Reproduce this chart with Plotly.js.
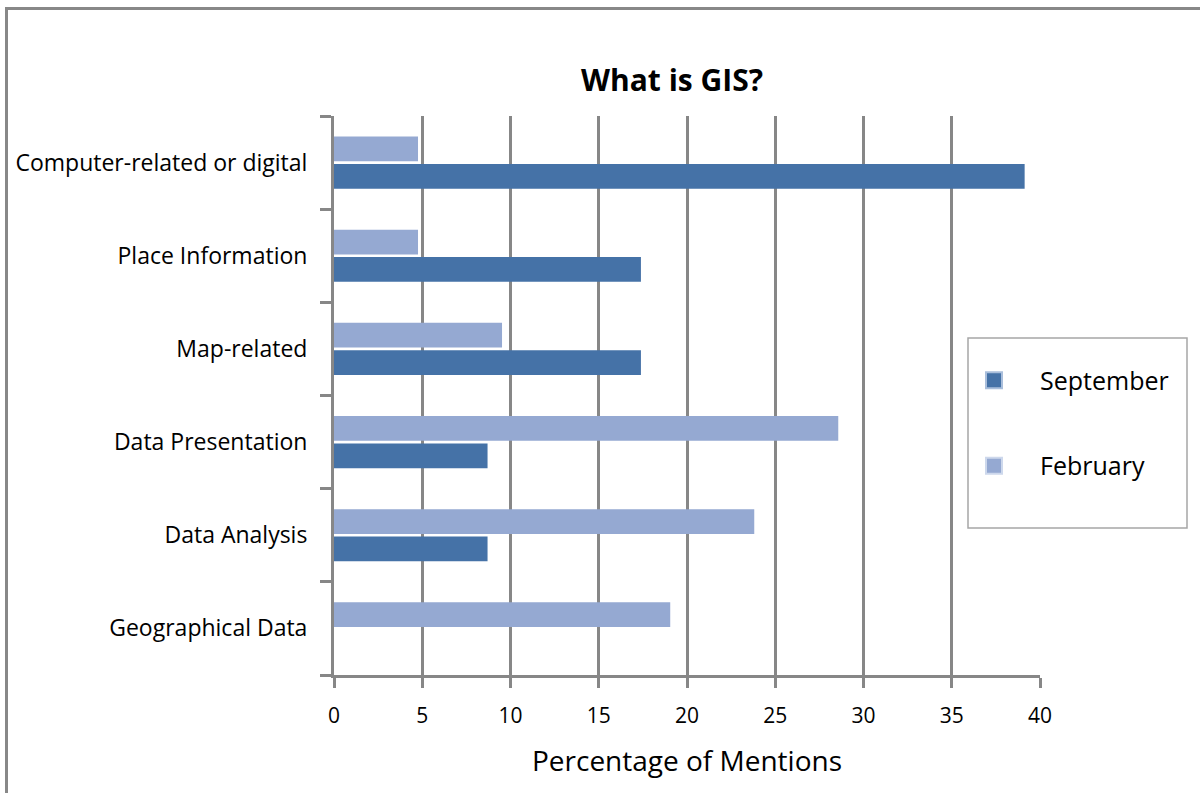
<!DOCTYPE html>
<html>
<head>
<meta charset="utf-8">
<script src="https://cdn.plot.ly/plotly-3.0.1.min.js"></script>
<style>
  html, body { margin: 0; padding: 0; background: #fff; }
  #frame { position: absolute; left: 5px; top: 7px; width: 1300px; height: 900px;
           border-left: 3px solid #888; border-top: 3px solid #888; }
  #chart { position: absolute; left: 0; top: 0; width: 1200px; height: 793px; }
</style>
</head>
<body>
<div id="frame"></div>
<div id="chart"></div>
<script>
// categories listed bottom-to-top (Plotly category axis draws first at bottom)
const categories = [
  "Geographical Data",
  "Data Analysis",
  "Data Presentation",
  "Map-related",
  "Place Information",
  "Computer-related or digital"
];
const september = [0, 8.70, 8.70, 17.39, 17.39, 39.13];
const february  = [19.05, 23.81, 28.57, 9.52, 4.76, 4.76];
const xTicks = [0, 5, 10, 15, 20, 25, 30, 35, 40];
const seriesNames = ["September", "February"];
const seriesColors = ["#4572a7", "#95a9d2"];

const FONT = "'Open Sans', sans-serif";

const traces = [
  {
    type: "bar", orientation: "h", name: seriesNames[0], showlegend: false,
    y: categories, x: september,
    marker: { color: seriesColors[0], line: { width: 0 } }
  },
  {
    type: "bar", orientation: "h", name: seriesNames[1], showlegend: false,
    y: categories, x: february,
    marker: { color: seriesColors[1], line: { width: 0 } }
  },
  // legend-only entries (larger square swatches)
  {
    type: "scatter", mode: "markers", name: seriesNames[0], legendgroup: "sep",
    x: [null], y: [null],
    marker: { symbol: "square", size: 20, color: seriesColors[0], line: { color: "#a9bedb", width: 2 } }
  },
  {
    type: "scatter", mode: "markers", name: seriesNames[1], legendgroup: "feb",
    x: [null], y: [null],
    marker: { symbol: "square", size: 20, color: seriesColors[1], line: { color: "#cdd8ec", width: 2 } }
  }
];

const layout = {
  width: 1200, height: 793,
  paper_bgcolor: "rgba(0,0,0,0)", plot_bgcolor: "rgba(0,0,0,0)",
  margin: { l: 334, r: 160, t: 116, b: 118 },
  barmode: "group", bargap: 0.41, bargroupgap: 0.1,
  font: { family: FONT, color: "#000" },
  title: {
    text: "<b>What is GIS?</b>", font: { family: FONT, size: 30, color: "#000" },
    xref: "container", x: 672 / 1200, xanchor: "center",
    yref: "container", y: 1 - 80 / 793, yanchor: "middle"
  },
  xaxis: {
    range: [0, 40], tickvals: xTicks, ticktext: xTicks.map(String),
    showgrid: true, gridcolor: "#878787", gridwidth: 3,
    showline: true, linecolor: "#878787", linewidth: 3,
    ticks: "outside", ticklen: 10, tickwidth: 3, tickcolor: "#878787",
    tickfont: { family: FONT, size: 21, color: "#000" },
    ticklabelstandoff: 10,
    zeroline: false, fixedrange: true,
    title: { text: "Percentage of Mentions", font: { family: FONT, size: 28, color: "#000" }, standoff: 24 }
  },
  yaxis: {
    type: "category", tickson: "boundaries",
    showgrid: false, showline: true, linecolor: "#878787", linewidth: 3,
    ticks: "outside", ticklen: 11, tickwidth: 3, tickcolor: "#878787",
    tickfont: { family: FONT, size: 23, color: "#000" },
    ticklabelstandoff: 19,
    fixedrange: true
  },
  showlegend: true,
  legend: {
    x: (948 - 334) / 706, xanchor: "left", y: 0.568, yanchor: "top",
    bgcolor: "rgba(0,0,0,0)", borderwidth: 0,
    font: { family: FONT, size: 25, color: "#000" },
    traceorder: "grouped", tracegroupgap: 50, itemwidth: 82, itemsizing: "trace"
  },
  shapes: [
    { type: "rect", xref: "paper", yref: "paper",
      x0: (968 - 334) / 706, x1: (1187 - 334) / 706,
      y0: (675 - 528) / 559, y1: (675 - 338) / 559,
      line: { color: "#a6a6a6", width: 1.5 }, fillcolor: "#fff", layer: "below" }
  ]
};

Plotly.newPlot("chart", traces, layout, { displayModeBar: false, staticPlot: true });
</script>
</body>
</html>
